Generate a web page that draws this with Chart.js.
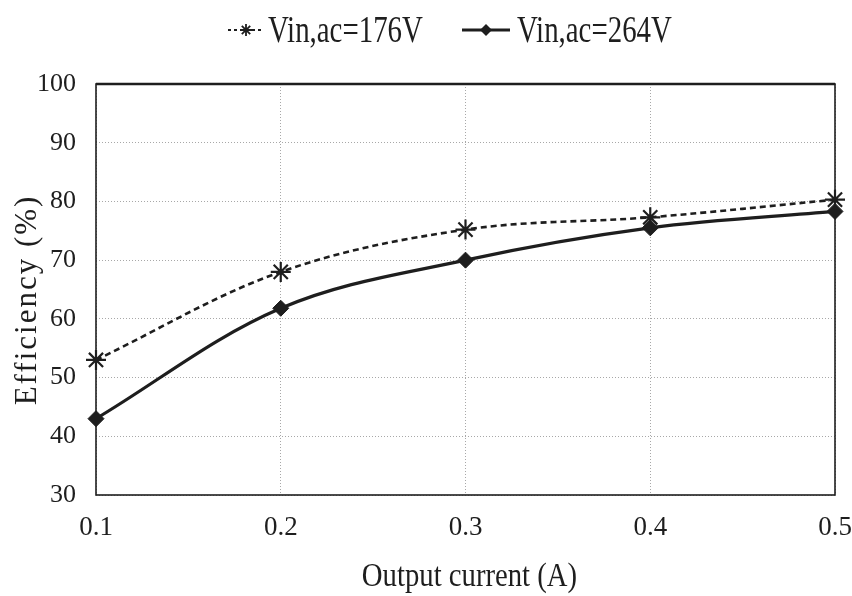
<!DOCTYPE html>
<html>
<head>
<meta charset="utf-8">
<script src="https://cdn.jsdelivr.net/npm/chart.js@4.4.1/dist/chart.umd.min.js"></script>
<style>
  html, body { margin: 0; padding: 0; background: #ffffff; }
  #wrap { width: 852px; height: 596px; position: relative; }
</style>
</head>
<body>
<div id="wrap"><canvas id="c" width="852" height="596"></canvas></div>
<script>
// ---- data ----
const currents = [0.1, 0.2, 0.3, 0.4, 0.5];
const eff176 = [53, 68, 75.2, 77.3, 80.3];
const eff264 = [43, 61.8, 70, 75.5, 78.3];
const seriesNames = ['Vin,ac=176V', 'Vin,ac=264V'];
const xTitle = 'Output current (A)';
const yTitle = 'Efficiency (%)';
const yMin = 30, yMax = 100, yStep = 10;
const xMin = 0.1, xMax = 0.5, xStep = 0.1;

const ink = '#1e1e1e';
const serif = '"Liberation Serif", "DejaVu Serif", serif';

function pts(xs, ys) { return xs.map((x, i) => ({ x: x, y: ys[i] })); }

const decor = {
  id: 'decor',
  beforeDatasetsDraw(chart) {
    const ctx = chart.ctx;
    const a = chart.chartArea;
    ctx.save();
    ctx.strokeStyle = ink;
    ctx.lineWidth = 1.6;
    ctx.strokeRect(a.left, a.top, a.right - a.left, a.bottom - a.top);
    ctx.lineWidth = 2.4;
    ctx.beginPath(); ctx.moveTo(a.left, a.top); ctx.lineTo(a.right, a.top); ctx.stroke();
    ctx.restore();
  },
  afterDraw(chart) {
    const ctx = chart.ctx;
    const a = chart.chartArea;
    ctx.save();
    ctx.fillStyle = ink;
    // x title
    ctx.save();
    ctx.translate((a.left + a.right) / 2 + 4, 577);
    ctx.scale(0.87, 1);
    ctx.font = '33px ' + serif;
    ctx.textAlign = 'center';
    ctx.textBaseline = 'middle';
    ctx.fillText(xTitle, 0, 0);
    ctx.restore();

    // y title
    ctx.save();
    ctx.translate(28, 300);
    ctx.rotate(-Math.PI / 2);
    ctx.font = '31px ' + serif;
    try { ctx.letterSpacing = '2px'; } catch (e) {}
    ctx.textAlign = 'center';
    ctx.textBaseline = 'middle';
    ctx.fillText(yTitle, 0, 0);
    ctx.restore();

    // legend
    const ly = 30;
    ctx.save();
    ctx.strokeStyle = ink;
    ctx.lineWidth = 2;
    ctx.setLineDash([3, 3]);
    ctx.beginPath(); ctx.moveTo(228, ly); ctx.lineTo(263, ly); ctx.stroke();
    ctx.setLineDash([]);
    ctx.lineWidth = 1.8;
    const sx = 246, r = 6;
    ctx.beginPath();
    ctx.moveTo(sx - r, ly); ctx.lineTo(sx + r, ly);
    ctx.moveTo(sx, ly - r); ctx.lineTo(sx, ly + r);
    ctx.moveTo(sx - r * 0.7, ly - r * 0.7); ctx.lineTo(sx + r * 0.7, ly + r * 0.7);
    ctx.moveTo(sx - r * 0.7, ly + r * 0.7); ctx.lineTo(sx + r * 0.7, ly - r * 0.7);
    ctx.stroke();
    ctx.lineWidth = 3;
    ctx.beginPath(); ctx.moveTo(462, ly); ctx.lineTo(510, ly); ctx.stroke();
    ctx.beginPath();
    ctx.moveTo(486, ly - 6); ctx.lineTo(492, ly); ctx.lineTo(486, ly + 6); ctx.lineTo(480, ly);
    ctx.closePath(); ctx.fill();
    ctx.restore();

    ctx.font = '38px ' + serif;
    ctx.textAlign = 'left';
    ctx.textBaseline = 'alphabetic';
    ctx.save(); ctx.translate(268, 42); ctx.scale(0.76, 1); ctx.fillText(seriesNames[0], 0, 0); ctx.restore();
    ctx.save(); ctx.translate(517, 42); ctx.scale(0.76, 1); ctx.fillText(seriesNames[1], 0, 0); ctx.restore();
    ctx.restore();
  }
};

new Chart(document.getElementById('c'), {
  type: 'line',
  data: {
    datasets: [
      {
        label: seriesNames[0],
        data: pts(currents, eff176),
        borderColor: ink,
        backgroundColor: ink,
        borderWidth: 2.6,
        borderDash: [6, 4],
        tension: 0.35,
        clip: false,
        pointStyle: 'star',
        pointRadius: 10,
        pointBorderWidth: 2.2,
        pointBorderColor: ink,
        pointBackgroundColor: ink
      },
      {
        label: seriesNames[1],
        data: pts(currents, eff264),
        borderColor: ink,
        backgroundColor: ink,
        borderWidth: 3.2,
        tension: 0.35,
        clip: false,
        pointStyle: 'rectRot',
        pointRadius: 8,
        pointBorderWidth: 1,
        pointBorderColor: ink,
        pointBackgroundColor: ink
      }
    ]
  },
  options: {
    responsive: false,
    animation: false,
    devicePixelRatio: 1,
    layout: { padding: { left: 0, top: 84, right: 17, bottom: 0 } },
    plugins: {
      legend: { display: false },
      tooltip: { enabled: false }
    },
    scales: {
      x: {
        type: 'linear',
        min: xMin, max: xMax,
        afterFit(s) { s.height = 101; s.paddingRight = 0; s.paddingLeft = 0; },
        border: { display: false, dash: [1, 2] },
        grid: { color: '#a8a8a8', lineWidth: 1, drawTicks: false },
        ticks: {
          stepSize: xStep,
          padding: 17,
          color: ink,
          font: { family: serif, size: 27 },
          callback: v => Number(v).toFixed(1)
        }
      },
      y: {
        min: yMin, max: yMax,
        afterFit(s) { s.width = 96; s.paddingTop = 0; s.paddingBottom = 0; },
        border: { display: false, dash: [1, 2] },
        grid: { color: '#a8a8a8', lineWidth: 1, drawTicks: false },
        ticks: {
          stepSize: yStep,
          padding: 20,
          color: ink,
          font: { family: serif, size: 26 }
        }
      }
    }
  },
  plugins: [decor]
});
</script>
</body>
</html>
